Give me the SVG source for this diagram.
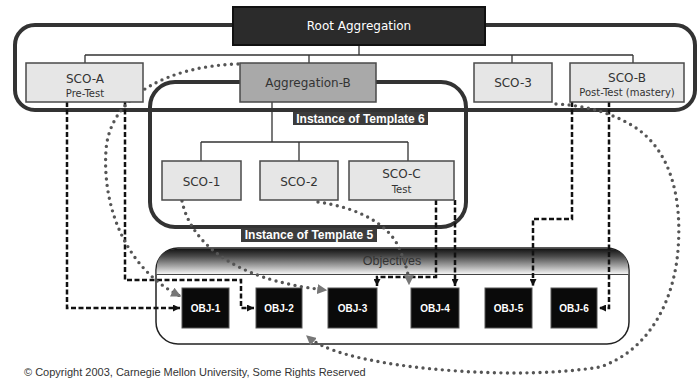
<svg xmlns="http://www.w3.org/2000/svg" width="699" height="381" viewBox="0 0 699 381">
<style>
.box{fill:#e6e6e6;stroke:#4a4a4a;stroke-width:1.5}
.lbl{font-family:"DejaVu Sans",sans-serif;font-size:12px;fill:#333;text-anchor:middle}
.sub{font-family:"DejaVu Sans",sans-serif;font-size:10px;fill:#333;text-anchor:middle}
.tag{fill:#3c3c3c}
.tagt{font-family:"Liberation Sans",Arial,sans-serif;font-weight:bold;font-size:12px;fill:#fff;text-anchor:middle}
.obj{fill:#0a0a0a;stroke:#555;stroke-width:1}
.objt{font-family:"Liberation Sans",Arial,sans-serif;font-weight:bold;font-size:10px;fill:#fff;text-anchor:middle}
.frame{fill:none;stroke:#333;stroke-width:4}
.tree{fill:none;stroke:#333;stroke-width:1.3}
.dash{fill:none;stroke:#111;stroke-width:2.5;stroke-dasharray:5 2.5;marker-end:url(#ah)}
.dot{fill:none;stroke:#555;stroke-width:3.4;stroke-linecap:round;stroke-dasharray:0 6.5;marker-end:url(#dh)}
</style>
<defs>
<linearGradient id="hdr" x1="0" y1="0" x2="0" y2="1">
<stop offset="0" stop-color="#141414"/>
<stop offset="0.3" stop-color="#4a4a4a"/>
<stop offset="0.7" stop-color="#a8a8a8"/>
<stop offset="1" stop-color="#f4f4f4"/>
</linearGradient>
<marker id="ah" viewBox="0 0 8 8" refX="8" refY="4" markerWidth="7" markerHeight="7" markerUnits="userSpaceOnUse" orient="auto">
<path d="M0,0 L8,4 L0,8 Z" fill="#111"/>
</marker>
<marker id="dh" viewBox="0 0 8 8" refX="7" refY="4" markerWidth="10" markerHeight="10" markerUnits="userSpaceOnUse" orient="auto">
<path d="M0,0 L8,4 L0,8 Z" fill="#777"/>
</marker>
</defs>
<rect width="699" height="381" fill="#fff"/>

<g id="root-frame"><rect class="frame" x="15" y="25" width="680" height="85" rx="20"/></g>
<g id="template6-frame"><rect class="frame" x="150" y="82" width="316" height="145" rx="25"/></g>

<g id="objectives">
<rect x="156" y="248" width="473" height="96" rx="22" fill="#fff" stroke="#222" stroke-width="1.5"/>
<path d="M156.75,274 V270 Q156.75,248.75 178,248.75 H607 Q628.25,248.75 628.25,270 V274 Z" fill="url(#hdr)"/>
<line x1="157" y1="274.5" x2="628" y2="274.5" stroke="#444" stroke-width="1"/>
<text x="392" y="265" font-family="'Liberation Sans',Arial,sans-serif" font-size="12.5" fill="#333" text-anchor="middle">Objectives</text>
</g>

<g id="connectors">
<path class="tree" d="M359,45 V55 M85,55 H633 M85,55 V63 M309,55 V63 M512,55 V63 M633,55 V63"/>
<path class="tree" d="M272,102 V142 M201,142 H408 M201,142 V161 M299,142 V161 M408,142 V161"/>
<path class="dash" d="M67,102 V308 H180"/>
<path class="dash" d="M125,102 V280 H241 V308 H254"/>
<path class="dash" d="M436,200 V277 H377 V286"/>
<path class="dash" d="M455,200 V286"/>
<path class="dash" d="M572,102 V219 H533 V286"/>
<path class="dash" d="M609,102 V308 H599"/>
<path class="dot" d="M238,64 C170,66 110,95 106,150 C102,210 128,270 180,296"/>
<path class="dot" d="M182,201 C190,240 230,280 326,290"/>
<path class="dot" d="M318,202 C360,208 390,225 400,250 C406,265 409,275 409,284"/>
<path class="dot" d="M556,104 Q600,106 633,126 C672,150 682,200 678,250 C674,300 650,350 600,367 C520,380 400,370 345,354 C325,348 315,343 307,336"/>
</g>

<g id="root-aggregation">
<rect x="233" y="7" width="252" height="38" fill="#2b2b2b" stroke="#111" stroke-width="2"/>
<text class="lbl" x="359" y="30" style="fill:#fff">Root Aggregation</text>
</g>
<g id="sco-a">
<rect class="box" x="26" y="63" width="117" height="39"/>
<text class="lbl" x="85" y="83">SCO-A</text>
<text class="sub" x="85" y="97">Pre-Test</text>
</g>
<g id="aggregation-b">
<rect class="box" x="240" y="63" width="136" height="39" style="fill:#a9a9a9"/>
<text class="lbl" x="308" y="87">Aggregation-B</text>
</g>
<g id="sco-3">
<rect class="box" x="474" y="63" width="78" height="39"/>
<text class="lbl" x="513" y="87">SCO-3</text>
</g>
<g id="sco-b">
<rect class="box" x="570" y="63" width="114" height="39"/>
<text class="lbl" x="627" y="82">SCO-B</text>
<text class="sub" x="627" y="96">Post-Test (mastery)</text>
</g>
<g id="label-template6">
<rect class="tag" x="293" y="112" width="135" height="13"/>
<text class="tagt" x="360.5" y="122.5">Instance of Template 6</text>
</g>
<g id="sco-1">
<rect class="box" x="162" y="161" width="79" height="39"/>
<text class="lbl" x="201.5" y="186">SCO-1</text>
</g>
<g id="sco-2">
<rect class="box" x="260" y="161" width="78" height="39"/>
<text class="lbl" x="299" y="186">SCO-2</text>
</g>
<g id="sco-c">
<rect class="box" x="349" y="161" width="105" height="39"/>
<text class="lbl" x="401.5" y="178">SCO-C</text>
<text class="sub" x="401.5" y="193">Test</text>
</g>
<g id="label-template5">
<rect class="tag" x="241" y="228" width="136" height="14"/>
<text class="tagt" x="309" y="239">Instance of Template 5</text>
</g>
<g id="obj-1"><rect class="obj" x="182" y="288" width="47" height="40"/><text class="objt" x="205.5" y="312">OBJ-1</text></g>
<g id="obj-2"><rect class="obj" x="256" y="288" width="46" height="40"/><text class="objt" x="279" y="312">OBJ-2</text></g>
<g id="obj-3"><rect class="obj" x="328" y="288" width="49" height="40"/><text class="objt" x="352.5" y="312">OBJ-3</text></g>
<g id="obj-4"><rect class="obj" x="411" y="288" width="48" height="40"/><text class="objt" x="435" y="312">OBJ-4</text></g>
<g id="obj-5"><rect class="obj" x="485" y="288" width="47" height="40"/><text class="objt" x="508.5" y="312">OBJ-5</text></g>
<g id="obj-6"><rect class="obj" x="551" y="288" width="46" height="40"/><text class="objt" x="574" y="312">OBJ-6</text></g>

<text x="24" y="376" font-family="'Liberation Sans',Arial,sans-serif" font-size="11" fill="#333">© Copyright 2003, Carnegie Mellon University, Some Rights Reserved</text>
</svg>
